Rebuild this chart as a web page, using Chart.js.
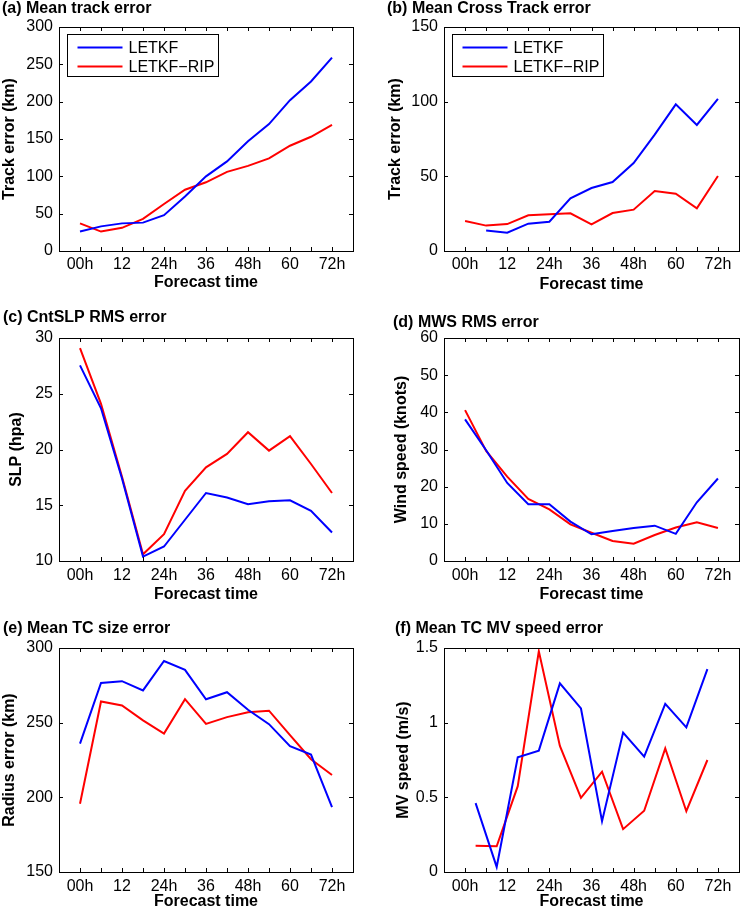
<!DOCTYPE html>
<html>
<head>
<meta charset="utf-8">
<script src="https://cdn.jsdelivr.net/npm/chart.js@4.4.1/dist/chart.umd.min.js"></script>
<style>
  html, body { margin: 0; padding: 0; background: #fff; }
  #wrap { position: relative; width: 740px; height: 911px; overflow: hidden; }
  #wrap canvas { position: absolute; left: 0; top: 0; }
</style>
</head>
<body>
<div id="wrap"></div>
<script>
// forecast hours (x) and tick labels
const hours = [0, 6, 12, 18, 24, 30, 36, 42, 48, 54, 60, 66, 72];
const hoursMv = [3, 9, 15, 21, 27, 33, 39, 45, 51, 57, 63, 69];
const xTickValues = [0, 12, 24, 36, 48, 60, 72];
const xTickLabels = ['00h', '12', '24h', '36', '48h', '60', '72h'];
const seriesNames = ['LETKF', 'LETKF\u2212RIP'];

// (a) mean track error
const trackLetkf = [26, 33, 37, 38, 48, 73, 100, 120, 147, 170, 202, 227, 259];
const trackRip = [37, 26, 31, 43, 63, 82, 92, 106, 114, 124, 141, 153, 169];
const trackTicks = [0, 50, 100, 150, 200, 250, 300];

// (b) mean cross track error
const crossLetkf = [null, 13.8, 12.3, 18.3, 19.6, 35.3, 42.2, 46.2, 58.9, 77.9, 98.2, 84.4, 101.8];
const crossRip = [20.1, 17, 18, 23.9, 24.6, 25.2, 17.9, 25.4, 27.7, 40.2, 38.4, 28.6, 50.2];
const crossTicks = [0, 50, 100, 150];

// (c) central SLP rms error
const slpLetkf = [27.55, 23.7, 17.4, 10.4, 11.3, 13.7, 16.1, 15.7, 15.1, 15.35, 15.45, 14.5, 12.55];
const slpRip = [29.1, 24.1, 17.55, 10.6, 12.4, 16.3, 18.4, 19.6, 21.55, 19.9, 21.2, 18.7, 16.1];
const slpTicks = [10, 15, 20, 25, 30];

// (d) max wind speed rms error
const mwsLetkf = [38.1, 29.8, 21, 15.3, 15.3, 10.6, 7.2, 8.1, 8.9, 9.5, 7.3, 15.8, 22.2];
const mwsRip = [40.6, 29.6, 22.7, 16.7, 13.9, 9.85, 7.6, 5.4, 4.65, 7, 9, 10.4, 8.9];
const mwsTicks = [0, 10, 20, 30, 40, 50, 60];

// (e) mean TC size error
const sizeLetkf = [236, 276.6, 277.8, 271.6, 291.3, 285.4, 265.7, 270.4, 258.6, 249, 234.2, 228.6, 193.4];
const sizeRip = [195.7, 264.2, 261.5, 251.5, 242.7, 265.7, 249.2, 253.7, 257, 258, 241.6, 225.5, 215];
const sizeTicks = [150, 200, 250, 300];

// (f) mean TC moving speed error
const mvLetkf = [0.461, 0.034, 0.768, 0.813, 1.263, 1.095, 0.34, 0.934, 0.772, 1.126, 0.969, 1.359];
const mvRip = [0.175, 0.172, 0.575, 1.478, 0.844, 0.497, 0.672, 0.287, 0.41, 0.828, 0.407, 0.75];
const mvTicks = [0, 0.5, 1, 1.5];

const W = 740, H = 911;
const FONT = '"Liberation Sans", Arial, Helvetica, sans-serif';
const COLORS = ['#0000ff', '#ff0000'];
const TICK = 4;

// page layout: plot box (l,t,r,b), panel title pos, axis title centres
const panels = [
  { title: '(a) Mean track error', yTitle: 'Track error (km)', xs: hours, ys: [trackLetkf, trackRip], yTicks: trackTicks,
    area: [59, 27, 353, 251], titleAt: [2, 9], yTitleX: 9.6, xTitleY: 283, tickPad: 3.5, legend: true },
  { title: '(b) Mean Cross Track error', yTitle: 'Track error (km)', xs: hours, ys: [crossLetkf, crossRip], yTicks: crossTicks,
    area: [444, 27, 739, 251], titleAt: [387, 9], yTitleX: 396, xTitleY: 285, tickPad: 4, legend: true },
  { title: '(c) CntSLP RMS error', yTitle: 'SLP (hpa)', xs: hours, ys: [slpLetkf, slpRip], yTicks: slpTicks,
    area: [59, 338, 353, 561], titleAt: [3, 318], yTitleX: 16.5, xTitleY: 595, tickPad: 5 },
  { title: '(d) MWS RMS error', yTitle: 'Wind speed (knots)', xs: hours, ys: [mwsLetkf, mwsRip], yTicks: mwsTicks,
    area: [444, 338, 739, 561], titleAt: [393, 323], yTitleX: 402, xTitleY: 595, tickPad: 5 },
  { title: '(e) Mean TC size error', yTitle: 'Radius error (km)', xs: hours, ys: [sizeLetkf, sizeRip], yTicks: sizeTicks,
    area: [59, 648, 353, 872], titleAt: [3, 629], yTitleX: 9.6, xTitleY: 902, tickPad: 5 },
  { title: '(f) Mean TC MV speed error', yTitle: 'MV speed (m/s)', xs: hoursMv, ys: [mvLetkf, mvRip], yTicks: mvTicks,
    area: [444, 648, 739, 872], titleAt: [395, 629], yTitleX: 404, xTitleY: 902, tickPad: 5 }
];

Chart.defaults.font.family = FONT;
Chart.defaults.font.size = 16;
Chart.defaults.color = '#000';

// box, inward ticks, panel title and boxed legend (MATLAB look)
const framePlugin = {
  id: 'frame',
  afterDatasetsDraw(chart, args, opts) {
    const { ctx, chartArea: a, scales: { x, y } } = chart;
    ctx.save();
    ctx.strokeStyle = '#000';
    ctx.lineWidth = 1;
    ctx.beginPath();
    x.ticks.forEach(t => {
      const px = Math.round(x.getPixelForValue(t.value)) + 0.5;
      ctx.moveTo(px, a.bottom); ctx.lineTo(px, a.bottom - TICK);
      ctx.moveTo(px, a.top); ctx.lineTo(px, a.top + TICK);
    });
    y.ticks.forEach(t => {
      const py = Math.round(y.getPixelForValue(t.value)) + 0.5;
      ctx.moveTo(a.left, py); ctx.lineTo(a.left + TICK, py);
      ctx.moveTo(a.right, py); ctx.lineTo(a.right - TICK, py);
    });
    ctx.stroke();
    ctx.strokeRect(Math.round(a.left) + 0.5, Math.round(a.top) + 0.5, Math.round(a.right - a.left), Math.round(a.bottom - a.top));

    ctx.fillStyle = '#000';
    ctx.font = `bold 16px ${FONT}`;
    ctx.textBaseline = 'middle';
    ctx.textAlign = 'left';
    ctx.fillText(opts.text, opts.at[0], opts.at[1]);

    if (opts.legend) {
      const bx = Math.round(a.left) + 8.5, by = Math.round(a.top) + 7.5;
      ctx.fillStyle = '#fff';
      ctx.fillRect(bx, by, 151, 42);
      ctx.strokeRect(bx, by, 151, 42);
      ctx.font = `16px ${FONT}`;
      chart.data.datasets.forEach((ds, i) => {
        const ry = by + 13 + i * 19;
        ctx.strokeStyle = ds.borderColor;
        ctx.lineWidth = 2;
        ctx.beginPath();
        ctx.moveTo(bx + 10, ry); ctx.lineTo(bx + 55, ry);
        ctx.stroke();
        ctx.fillStyle = '#000';
        ctx.fillText(ds.label, bx + 61, ry + 1);
      });
    }
    ctx.restore();
  }
};

function xLabel(v) {
  const i = xTickValues.indexOf(v);
  return i < 0 ? '' : xTickLabels[i];
}

function makePanel(p) {
  const canvas = document.createElement('canvas');
  canvas.width = W; canvas.height = H;
  document.getElementById('wrap').appendChild(canvas);

  const [l, t, r, b] = p.area;
  const padLeft = Math.max(p.yTitleX - 9.6, 0);
  const xHeight = Math.min(p.xTitleY - b + 9.6, H - b);
  const padBottom = Math.max(H - b - xHeight, 0);

  const datasets = p.ys.map((vals, i) => ({
    label: seriesNames[i],
    data: p.xs.map((h, k) => ({ x: h, y: vals[k] })),
    borderColor: COLORS[i],
    borderWidth: 2,
    pointRadius: 0,
    fill: false,
    tension: 0
  }));

  new Chart(canvas.getContext('2d'), {
    type: 'line',
    data: { datasets },
    options: {
      responsive: false,
      animation: false,
      events: [],
      layout: { padding: { left: padLeft, top: t, right: W - r, bottom: padBottom } },
      plugins: {
        legend: { display: false },
        tooltip: { enabled: false },
        frame: { text: p.title, at: p.titleAt, legend: !!p.legend }
      },
      scales: {
        x: {
          type: 'linear', min: -6, max: 78,
          afterBuildTicks: s => { s.ticks = hours.map(v => ({ value: v })); },
          afterFit: s => { s.height = xHeight; },
          grid: { display: false, drawTicks: false },
          border: { display: false },
          ticks: { autoSkip: false, maxRotation: 0, minRotation: 0, padding: p.tickPad, callback: xLabel },
          title: { display: true, text: 'Forecast time', font: { size: 16, weight: 'bold' }, padding: { top: 0, bottom: 0 } }
        },
        y: {
          type: 'linear', min: p.yTicks[0], max: p.yTicks[p.yTicks.length - 1],
          afterBuildTicks: s => { s.ticks = p.yTicks.map(v => ({ value: v })); },
          afterFit: s => { s.width = l - padLeft; },
          grid: { display: false, drawTicks: false },
          border: { display: false },
          ticks: { padding: 6, callback: v => String(v) },
          title: { display: true, text: p.yTitle, font: { size: 16, weight: 'bold' }, padding: { top: 0, bottom: 0 } }
        }
      }
    },
    plugins: [framePlugin]
  });
}

panels.forEach(makePanel);
</script>
</body>
</html>
